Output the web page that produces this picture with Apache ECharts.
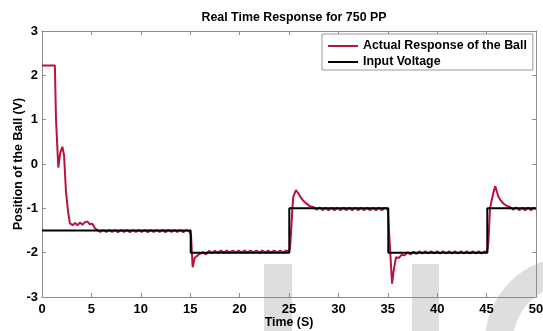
<!DOCTYPE html>
<html>
<head>
<meta charset="utf-8">
<script src="https://cdn.jsdelivr.net/npm/echarts@6/dist/echarts.min.js"></script>
<style>
  html, body { margin: 0; padding: 0; background: #fff; }
  #chart { width: 543px; height: 331px; }
</style>
</head>
<body>
<div id="chart"></div>
<script>
const xTicks = [0, 5, 10, 15, 20, 25, 30, 35, 40, 45, 50];
const yTicks = [-3, -2, -1, 0, 1, 2, 3];

// [time (s), volts]
const response = [
  [0, 2.22], [1.3, 2.22], [1.42, 1.0], [1.65, -0.08], [1.85, 0.25], [2.06, 0.39],
  [2.23, 0.2], [2.43, -0.63], [2.65, -1.1], [2.83, -1.34], [3.1, -1.38], [3.35, -1.33],
  [3.6, -1.38], [3.85, -1.32], [4.1, -1.37], [4.35, -1.31], [4.6, -1.3], [4.85, -1.36],
  [5.1, -1.35], [5.36, -1.45], [5.6, -1.49], [5.9, -1.53], [6.2, -1.49], [6.5, -1.53],
  [6.8, -1.49], [7.1, -1.53], [7.4, -1.49], [7.7, -1.54], [8.0, -1.49], [8.3, -1.53],
  [8.6, -1.49], [8.9, -1.54], [9.2, -1.49], [9.5, -1.53], [9.8, -1.49], [10.1, -1.53],
  [10.4, -1.49], [10.7, -1.54], [11.0, -1.49], [11.3, -1.53], [11.6, -1.49], [11.9, -1.53],
  [12.2, -1.49], [12.5, -1.54], [12.8, -1.49], [13.1, -1.53], [13.4, -1.49], [13.7, -1.53],
  [14.0, -1.49], [14.3, -1.54], [14.6, -1.49], [14.9, -1.52],
  [15.08, -1.6], [15.25, -2.33], [15.45, -2.12], [15.6, -2.15], [15.8, -2.05], [16.0, -2.08],
  [16.3, -1.99], [16.6, -2.04], [16.9, -1.96], [17.2, -2.01], [17.5, -1.96], [17.8, -2.0],
  [18.1, -1.95], [18.4, -2.0], [18.7, -1.95], [19.0, -2.0], [19.3, -1.95], [19.6, -2.0],
  [19.9, -1.95], [20.2, -2.0], [20.5, -1.95], [20.8, -2.0], [21.1, -1.95], [21.4, -2.0],
  [21.7, -1.95], [22.0, -2.0], [22.3, -1.95], [22.6, -2.0], [22.9, -1.95], [23.2, -2.0],
  [23.5, -1.95], [23.8, -2.0], [24.1, -1.95], [24.4, -2.0], [24.7, -1.95], [25.0, -1.98],
  [25.1, -1.9], [25.22, -1.5], [25.33, -1.05], [25.43, -0.74], [25.7, -0.59], [25.94, -0.66],
  [26.2, -0.76], [26.45, -0.83], [26.8, -0.9], [27.1, -0.95], [27.46, -0.97], [27.8, -1.03],
  [28.1, -0.98], [28.4, -1.04], [28.7, -0.99], [29.0, -1.04], [29.3, -0.99], [29.6, -1.04],
  [29.9, -0.99], [30.2, -1.04], [30.5, -0.99], [30.8, -1.04], [31.1, -0.99], [31.4, -1.04],
  [31.7, -0.99], [32.0, -1.04], [32.3, -0.99], [32.6, -1.04], [32.9, -0.99], [33.2, -1.04],
  [33.5, -0.99], [33.8, -1.04], [34.1, -0.99], [34.4, -1.04], [34.7, -0.99], [35.0, -1.02],
  [35.12, -1.05], [35.3, -2.2], [35.43, -2.7], [35.6, -2.4], [35.83, -2.1], [36.1, -2.12],
  [36.4, -2.05], [36.7, -2.06], [37.0, -1.99], [37.3, -2.04], [37.6, -1.98], [37.9, -2.03],
  [38.2, -1.97], [38.5, -2.02], [38.8, -1.97], [39.1, -2.02], [39.4, -1.97], [39.7, -2.02],
  [40.0, -1.97], [40.3, -2.02], [40.6, -1.97], [40.9, -2.02], [41.2, -1.97], [41.5, -2.02],
  [41.8, -1.97], [42.1, -2.02], [42.4, -1.97], [42.7, -2.02], [43.0, -1.97], [43.3, -2.02],
  [43.6, -1.97], [43.9, -2.02], [44.2, -1.97], [44.5, -2.02], [44.8, -1.97], [45.05, -2.0],
  [45.17, -1.8], [45.35, -1.0], [45.52, -0.81], [45.75, -0.59], [45.88, -0.5], [46.19, -0.74],
  [46.45, -0.83], [46.7, -0.89], [47.0, -0.94], [47.37, -0.97], [47.7, -1.03], [48.0, -0.98],
  [48.3, -1.04], [48.6, -0.99], [48.9, -1.04], [49.2, -0.99], [49.5, -1.04], [49.8, -0.99],
  [50, -1.02]
];

// [time (s), volts] of the stepped input
const inputVoltage = [
  [0, -1.5], [15.05, -1.5], [15.05, -2], [25.03, -2], [25.03, -1], [35.05, -1],
  [35.05, -2], [45.07, -2], [45.07, -1], [50, -1]
];

const chart = echarts.init(document.getElementById('chart'));
const font = 'Liberation Sans, Arial, sans-serif';
const axisGrey = '#8c8c8c';
const redColor = '#b8143c';

const hiddenAxis = {
  axisLine: { show: true, onZero: false, lineStyle: { color: axisGrey, width: 1 } },
  axisTick: { show: true, inside: true, length: 4, lineStyle: { color: axisGrey } },
  axisLabel: { show: false },
  splitLine: { show: false }
};

chart.setOption({
  animation: false,
  backgroundColor: '#fff',
  title: {
    text: 'Real Time Response for 750 PP',
    left: 289,
    textAlign: 'center',
    top: 7,
    textStyle: { fontFamily: font, fontSize: 12.4, fontWeight: 'bold', color: '#000' }
  },
  legend: {
    orient: 'vertical',
    left: 322,
    top: 34,
    padding: [6, 6, 2, 6],
    icon: 'rect',
    itemWidth: 30,
    itemHeight: 2,
    itemGap: 4,
    backgroundColor: '#fff',
    borderColor: '#999',
    borderWidth: 1,
    textStyle: { fontFamily: font, fontSize: 12.4, fontWeight: 'bold', color: '#000', lineHeight: 10 },
    data: ['Actual Response of the Ball', 'Input Voltage']
  },
  grid: { left: 42, right: 7, top: 31, bottom: 34, outerBoundsMode: 'none' },
  xAxis: [
    {
      type: 'value',
      min: xTicks[0],
      max: xTicks[xTicks.length - 1],
      interval: 5,
      name: 'Time (S)',
      nameLocation: 'middle',
      nameGap: 20,
      nameMoveOverlap: false,
      nameTextStyle: { fontFamily: font, fontSize: 12.4, fontWeight: 'bold', color: '#000' },
      axisLine: { show: true, onZero: false, lineStyle: { color: axisGrey, width: 1 } },
      axisTick: { show: true, inside: true, length: 4, lineStyle: { color: axisGrey } },
      axisLabel: { fontFamily: font, fontSize: 13, fontWeight: 'bold', color: '#000', margin: 6 },
      splitLine: { show: false }
    },
    Object.assign({ type: 'value', position: 'top', min: 0, max: 50, interval: 5 }, hiddenAxis)
  ],
  yAxis: [
    {
      type: 'value',
      min: yTicks[0],
      max: yTicks[yTicks.length - 1],
      interval: 1,
      name: 'Position of the Ball (V)',
      nameLocation: 'middle',
      nameGap: 17,
      nameMoveOverlap: false,
      nameTextStyle: { fontFamily: font, fontSize: 12.4, fontWeight: 'bold', color: '#000' },
      axisLine: { show: true, onZero: false, lineStyle: { color: axisGrey, width: 1 } },
      axisTick: { show: true, inside: true, length: 4, lineStyle: { color: axisGrey } },
      axisLabel: { fontFamily: font, fontSize: 13, fontWeight: 'bold', color: '#000', margin: 4 },
      splitLine: { show: false }
    },
    Object.assign({ type: 'value', position: 'right', min: -3, max: 3, interval: 1 }, hiddenAxis)
  ],
  graphic: [
    { type: 'rect', z: -10, silent: true, shape: { x: 264, y: 264, width: 28, height: 70 }, style: { fill: '#dedede' } },
    { type: 'rect', z: -10, silent: true, shape: { x: 412, y: 264, width: 27, height: 70 }, style: { fill: '#dedede' } },
    { type: 'ring', z: -10, silent: true, shape: { cx: 570, cy: 342, r: 85, r0: 57 }, style: { fill: '#dedede' } }
  ],
  series: [
    {
      name: 'Actual Response of the Ball',
      type: 'line',
      data: response,
      showSymbol: false,
      symbol: 'none',
      lineStyle: { color: redColor, width: 2 },
      itemStyle: { color: redColor }
    },
    {
      name: 'Input Voltage',
      type: 'line',
      data: inputVoltage,
      showSymbol: false,
      symbol: 'none',
      lineStyle: { color: '#000', width: 2 },
      itemStyle: { color: '#000' }
    }
  ]
});
</script>
</body>
</html>
